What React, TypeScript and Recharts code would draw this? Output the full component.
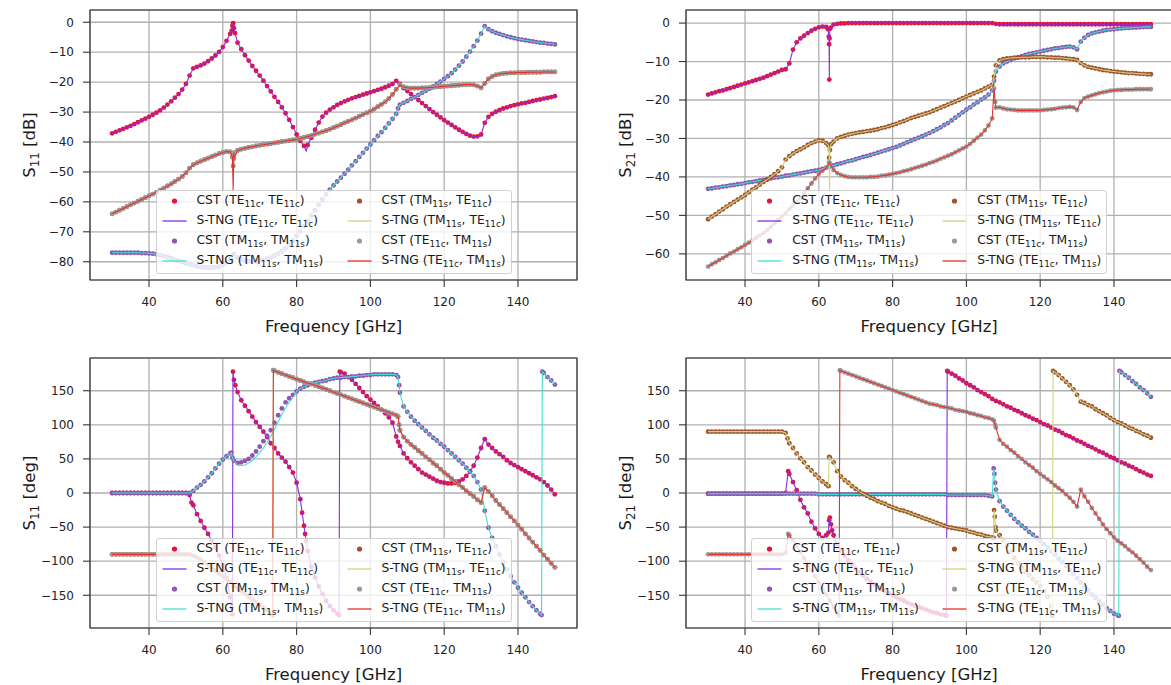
import React from 'react';
import { ComposedChart, Scatter, Line, XAxis, YAxis, CartesianGrid, ReferenceArea } from 'recharts';

// frequency grid shared by all traces [GHz]
const FREQ = [
  30, 31, 32, 33, 34, 35, 36, 37, 38, 39,
  40, 41, 42, 43, 44, 45, 46, 47, 48, 49,
  50, 51, 52, 53, 54, 55, 56, 57, 58, 59,
  60, 61, 62, 63, 64, 65, 66, 67, 68, 69,
  70, 71, 72, 73, 74, 75, 76, 77, 78, 79,
  80, 81, 82, 83, 84, 85, 86, 87, 88, 89,
  90, 91, 92, 93, 94, 95, 96, 97, 98, 99,
  100, 101, 102, 103, 104, 105, 106, 107, 108, 109,
  110, 111, 112, 113, 114, 115, 116, 117, 118, 119,
  120, 121, 122, 123, 124, 125, 126, 127, 128, 129,
  130, 131, 132, 133, 134, 135, 136, 137, 138, 139,
  140, 141, 142, 143, 144, 145, 146, 147, 148, 149,
  150,
];

// ---- S11 magnitude [dB] ----
const s11DbTeTe = [
  -37.1, -36.6, -36.1, -35.6, -35.1, -34.6, -34.0, -33.4, -32.8, -32.2,
  -31.6, -30.9, -30.2, -29.4, -28.5, -27.5, -26.4, -25.2, -24.0, -22.5,
  -20.6, -17.8, -15.4, -14.9, -14.4, -13.8, -13.0, -12.1, -11.1, -9.9,
  -8.3, -6.2, -3.9, -2.0, -6.8, -9.0, -11.0, -12.8, -14.6, -16.2,
  -17.8, -19.5, -21.3, -23.1, -24.9, -26.6, -28.4, -30.4, -32.6, -35.0,
  -37.5, -39.6, -41.3, -41.0, -38.6, -35.9, -33.5, -31.5, -30.2, -29.2,
  -28.4, -27.6, -27.0, -26.4, -25.9, -25.4, -25.0, -24.6, -24.2, -23.8,
  -23.4, -23.0, -22.6, -22.2, -21.7, -21.2, -20.6, -19.6, -20.6, -22.0,
  -23.0, -24.0, -25.0, -26.0, -27.0, -28.0, -29.0, -30.0, -30.9, -31.8,
  -32.7, -33.5, -34.3, -35.1, -35.9, -36.6, -37.3, -37.9, -38.2, -38.1,
  -37.5, -33.6, -31.6, -30.6, -29.9, -29.3, -28.8, -28.4, -28.0, -27.7,
  -27.4, -27.1, -26.9, -26.6, -26.3, -26.0, -25.8, -25.5, -25.3, -25.0,
  -24.7,
];
const s11DbTeTeExtra = [[62.4, -2.8], [62.6, -1.2], [62.8, -0.3], [63.3, -3.6]];
const s11DbTeTeLine = [[82.6, -43.0]];

const s11DbTmTm = [
  -77.0, -77.0, -77.0, -77.0, -77.0, -77.0, -77.0, -77.0, -77.1, -77.1,
  -77.2, -77.3, -77.5, -77.8, -78.1, -78.5, -78.9, -79.3, -79.7, -80.1,
  -80.5, -80.9, -81.2, -81.5, -81.7, -81.9, -82.0, -82.0, -81.9, -81.6,
  -81.0, -80.2, -79.0, -77.5, -78.6, -79.2, -79.6, -79.8, -79.9, -79.9,
  -79.7, -79.4, -79.0, -78.6, -78.0, -77.3, -76.5, -75.5, -74.3, -72.9,
  -71.4, -69.8, -68.1, -66.4, -64.6, -62.8, -61.0, -59.2, -57.5, -55.9,
  -54.5, -53.2, -51.9, -50.6, -49.2, -47.8, -46.4, -45.0, -43.6, -42.2,
  -40.8, -39.4, -38.0, -36.7, -35.3, -33.8, -32.3, -30.6, -27.5, -26.9,
  -26.3, -25.6, -25.0, -24.3, -23.6, -22.9, -22.2, -21.4, -20.6, -19.8,
  -18.9, -18.0, -17.0, -15.8, -14.5, -13.1, -11.5, -9.8, -8.0, -6.1,
  -3.8, -1.3, -2.3, -3.0, -3.5, -3.9, -4.3, -4.7, -5.0, -5.3,
  -5.6, -5.8, -6.0, -6.2, -6.4, -6.6, -6.8, -6.9, -7.1, -7.2,
  -7.4,
];
const s11DbTmTmExtra = [[107.5, -28.8]];

// (TM11s, TE11c) and (TE11c, TM11s) coincide for reflection
const s11DbCross = [
  -64.0, -63.4, -62.8, -62.2, -61.6, -61.0, -60.4, -59.8, -59.2, -58.6,
  -58.0, -57.4, -56.8, -56.1, -55.4, -54.7, -54.0, -53.2, -52.4, -51.5,
  -50.3, -48.7, -47.6, -47.0, -46.4, -45.9, -45.4, -44.9, -44.4, -43.9,
  -43.5, -43.2, -43.3, -43.6, -42.8, -42.4, -42.1, -41.8, -41.6, -41.3,
  -41.1, -40.9, -40.7, -40.5, -40.3, -40.1, -39.9, -39.7, -39.5, -39.3,
  -39.1, -38.8, -38.5, -38.2, -37.8, -37.4, -37.0, -36.6, -36.2, -35.7,
  -35.2, -34.7, -34.2, -33.6, -33.1, -32.6, -32.0, -31.4, -30.8, -30.3,
  -29.7, -29.0, -28.2, -27.4, -26.6, -25.5, -24.1, -22.4, -20.9, -21.6,
  -21.9, -22.0, -22.0, -22.0, -21.9, -21.9, -21.8, -21.7, -21.6, -21.5,
  -21.4, -21.3, -21.2, -21.1, -21.0, -20.9, -20.8, -20.8, -20.9, -21.3,
  -21.9, -20.4, -18.9, -18.1, -17.6, -17.3, -17.1, -17.0, -16.9, -16.9,
  -16.8, -16.8, -16.8, -16.7, -16.7, -16.7, -16.7, -16.6, -16.6, -16.6,
  -16.6,
];
const s11DbCrossExtra = [[62.6, -45.0], [62.8, -48.0], [63.0, -45.5]];
const s11DbCrossLine = [[62.8, -56.0]];

// ---- S21 magnitude [dB] ----
const s21DbTeTe = [
  -18.6, -18.3, -18.0, -17.7, -17.5, -17.2, -16.9, -16.6, -16.3, -16.0,
  -15.7, -15.4, -15.1, -14.8, -14.5, -14.2, -13.8, -13.4, -13.0, -12.6,
  -12.2, -12.0, -10.5, -6.9, -5.0, -4.0, -3.3, -2.6, -2.0, -1.5,
  -1.1, -0.9, -1.0, -1.5, -0.4, -0.2, -0.1, -0.1, 0, 0,
  0, 0, 0, 0, 0, 0, 0, 0, 0, 0,
  0, 0, 0, 0, 0, 0, 0, 0, 0, 0,
  0, 0, 0, 0, 0, 0, 0, 0, 0, 0,
  0, 0, 0, 0, 0, 0, 0, 0, -0.2, -0.3,
  -0.3, -0.3, -0.3, -0.3, -0.3, -0.3, -0.3, -0.3, -0.3, -0.3,
  -0.3, -0.3, -0.3, -0.3, -0.3, -0.3, -0.3, -0.3, -0.3, -0.3,
  -0.3, -0.3, -0.3, -0.3, -0.3, -0.3, -0.3, -0.3, -0.3, -0.3,
  -0.3, -0.3, -0.3, -0.3, -0.3, -0.3, -0.3, -0.3, -0.3, -0.3,
  -0.3,
];
const s21DbTeTeExtra = [[62.5, -1.6], [62.7, -3.5], [62.8, -5.5], [62.85, -14.7], [62.9, -4.0], [63.2, -1.2]];

const s21DbTmTm = [
  -43.1, -43.0, -42.8, -42.7, -42.5, -42.4, -42.2, -42.1, -41.9, -41.8,
  -41.6, -41.4, -41.3, -41.1, -40.9, -40.8, -40.6, -40.4, -40.2, -40.1,
  -39.9, -39.7, -39.6, -39.4, -39.2, -39.1, -38.9, -38.7, -38.5, -38.4,
  -38.2, -37.9, -37.6, -37.3, -37.0, -36.7, -36.5, -36.2, -35.9, -35.7,
  -35.4, -35.1, -34.8, -34.6, -34.3, -34.0, -33.7, -33.4, -33.1, -32.8,
  -32.5, -32.2, -31.8, -31.4, -31.0, -30.6, -30.2, -29.8, -29.4, -29.0,
  -28.6, -28.1, -27.6, -27.1, -26.5, -26.0, -25.3, -24.6, -23.9, -23.2,
  -22.5, -21.9, -21.2, -20.6, -19.9, -19.3, -18.6, -17.5, -12.6, -11.3,
  -10.5, -10.0, -9.6, -9.2, -8.9, -8.6, -8.3, -8.0, -7.8, -7.6,
  -7.4, -7.2, -7.0, -6.8, -6.6, -6.5, -6.3, -6.2, -6.1, -6.3,
  -6.8, -4.8, -3.8, -3.1, -2.7, -2.4, -2.2, -2.0, -1.8, -1.7,
  -1.6, -1.5, -1.4, -1.3, -1.25, -1.2, -1.15, -1.1, -1.05, -1.0,
  -1.0,
];
const s21DbTmTmExtra = [[107.5, -15.0]];

const s21DbTmTe = [
  -51.0, -50.3, -49.7, -49.0, -48.4, -47.7, -47.1, -46.5, -45.9, -45.3,
  -44.7, -44.0, -43.3, -42.7, -42.0, -41.3, -40.7, -40.0, -39.3, -38.5,
  -37.5, -35.5, -34.6, -33.9, -33.3, -32.8, -32.3, -31.7, -31.2, -30.8,
  -30.5, -30.6, -31.2, -33.0, -30.8, -30.0, -29.6, -29.3, -29.0, -28.8,
  -28.6, -28.4, -28.3, -28.1, -28.0, -27.8, -27.6, -27.3, -27.1, -26.8,
  -26.5, -26.2, -25.8, -25.5, -25.1, -24.7, -24.4, -24.1, -23.8, -23.5,
  -23.2, -22.8, -22.4, -22.0, -21.6, -21.2, -20.8, -20.4, -20.0, -19.5,
  -19.1, -18.7, -18.3, -17.9, -17.5, -17.0, -16.5, -16.0, -11.0, -9.7,
  -9.4, -9.2, -9.1, -9.0, -9.0, -8.9, -8.9, -8.9, -8.8, -8.8,
  -8.8, -8.8, -8.9, -8.9, -9.0, -9.0, -9.1, -9.2, -9.3, -9.4,
  -9.6, -10.4, -11.0, -11.4, -11.6, -11.8, -12.0, -12.2, -12.3, -12.5,
  -12.6, -12.7, -12.8, -12.9, -13.0, -13.0, -13.1, -13.2, -13.2, -13.3,
  -13.3,
];
const s21DbTmTeExtra = [[62.6, -31.8], [62.8, -35.0], [63.3, -31.5], [107.5, -13.9]];
const s21DbTmTeLine = [[62.9, -45.0]];

const s21DbTeTm = [
  -63.3, -62.7, -62.2, -61.6, -61.1, -60.5, -59.9, -59.4, -58.8, -58.3,
  -57.7, -57.1, -56.5, -55.8, -55.2, -54.6, -53.8, -53.0, -52.1, -51.2,
  -50.3, -49.4, -48.4, -47.5, -46.5, -45.5, -44.3, -43.0, -41.7, -40.4,
  -39.2, -38.4, -37.7, -36.5, -38.2, -39.0, -39.5, -39.8, -40.0, -40.1,
  -40.1, -40.1, -40.1, -40.1, -40.0, -40.0, -39.9, -39.7, -39.6, -39.4,
  -39.2, -39.0, -38.8, -38.5, -38.3, -38.0, -37.7, -37.4, -37.1, -36.8,
  -36.4, -36.1, -35.7, -35.3, -34.9, -34.5, -34.1, -33.6, -33.1, -32.6,
  -32.1, -31.4, -30.6, -29.8, -29.0, -27.9, -26.6, -24.8, -22.0, -21.9,
  -22.2, -22.4, -22.5, -22.6, -22.7, -22.7, -22.7, -22.7, -22.7, -22.7,
  -22.7, -22.6, -22.5, -22.4, -22.3, -22.1, -22.0, -21.9, -21.8, -21.9,
  -22.6, -20.5, -19.5, -19.1, -18.8, -18.5, -18.2, -18.0, -17.8, -17.6,
  -17.5, -17.4, -17.4, -17.3, -17.3, -17.3, -17.2, -17.2, -17.2, -17.2,
  -17.2,
];
const s21DbTeTmExtra = [[62.8, -36.2], [107.5, -17.0], [107.8, -20.5]];

// ---- S11 phase [deg] ----
const s11DegTeTe = [
  0, 0, 0, 0, 0, 0, 0, 0, 0, 0,
  0, 0, 0, 0, 0, 0, 0, 0, 0, 0,
  0, -3, -18, -31, -41, -51, -60, -70, -80, -92,
  -106, -125, -152, 166, 148, 136, 128, 120, 112, 104,
  97, 90, 82, 73, 66, 58, 52, 46, 38, 30,
  15, -9, -48, -85, -108, -124, -137, -148, -158, -166,
  -172, -177, 177, 175, 170, 166, 160, 154, 148, 142,
  137, 132, 127, 122, 117, 111, 103, 83, 69, 58,
  51, 45, 40, 35, 30, 27, 24, 21, 18, 16,
  15, 14, 14, 15, 17, 20, 25, 32, 40, 52,
  66, 79, 71, 66, 61, 57, 53, 48, 44, 41,
  38, 35, 32, 29, 26, 23, 20, 16, 11, 5,
  -2,
];
const s11DegTeTeExtra = [
  [51.5, -14], [62.4, -168], [62.6, -178], [62.75, 178], [63.4, 158],
  [81.5, -29], [82.3, -60], [82.6, -70], [91.5, -179], [91.7, 178], [107.5, 75],
];

const s11DegTmTm = [
  0, 0, 0, 0, 0, 0, 0, 0, 0, 0,
  0, 0, 0, 0, 0, 0, 0, 0, 0, 0,
  0, 0, 3, 8, 12, 17, 23, 29, 36, 43,
  49, 54, 58, 47, 44, 45, 47, 50, 55, 61,
  68, 76, 84, 92, 103, 114, 124, 133, 139, 144,
  149, 153, 156, 158, 160, 162, 163, 164, 165, 167,
  168, 169, 169, 170, 170, 171, 171, 172, 172, 173,
  173, 174, 174, 174, 174, 174, 174, 173, 147, 127,
  119, 112, 106, 101, 96, 91, 86, 81, 77, 72,
  68, 63, 58, 53, 48, 43, 37, 31, 25, 16,
  5, -26, -51, -66, -78, -90, -102, -112, -122, -131,
  -139, -146, -153, -160, -166, -172, -177, 176, 170, 165,
  159,
];
const s11DegTmTmExtra = [[62.3, 59], [62.6, 52], [107.5, 170], [107.8, 158], [146.4, -179], [146.6, 178]];
// S-TNG sits a little below CST between the two resonances
const s11DegTmTmLine = [
  [64, 41], [65, 40], [66, 41], [67, 44], [68, 48], [69, 53], [70, 59], [71, 66],
  [72, 74], [73, 83], [74, 93], [75, 104], [76, 115], [77, 125], [78, 133], [79, 140],
];

const s11DegCross = [
  -90, -90, -90, -90, -90, -90, -90, -90, -90, -90,
  -90, -90, -90, -90, -90, -90, -90, -90, -90, -90,
  -90, -90, -92, -95, -98, -102, -106, -110, -114, -118,
  -122, -126, -130, -136, -140, -144, -148, -152, -156, -160,
  -164, -168, -172, -177, 179, 177, 175, 173, 171, 169,
  167, 165, 163, 161, 160, 158, 156, 154, 152, 150,
  148, 146, 144, 142, 140, 138, 136, 134, 132, 130,
  128, 126, 124, 122, 120, 118, 116, 114, 92, 82,
  76, 71, 67, 62, 58, 53, 49, 44, 40, 35,
  30, 26, 21, 17, 12, 8, 3, -1, -5, -10,
  -14, 8, 2, -4, -11, -17, -23, -29, -35, -41,
  -47, -53, -60, -66, -72, -78, -84, -91, -97, -103,
  -109,
];
const s11DegCrossExtra = [[73.5, -180], [73.7, 180], [107.5, 112], [107.8, 100]];

// ---- S21 phase [deg] ----
const s21DegTeTe = [
  -1, -1, -1, -1, -1, -1, -1, -1, -1, -1,
  -1, -1, -1, -1, -1, -1, -1, -1, -1, -1,
  -1, 0, 28, 16, 4, -10, -21, -30, -42, -52,
  -60, -66, -62, -36, -62, -75, -84, -92, -99, -105,
  -111, -116, -121, -126, -130, -134, -138, -141, -144, -147,
  -150, -153, -156, -158, -161, -163, -165, -167, -169, -171,
  -173, -175, -176, -178, -179, 178, 175, 172, 168, 165,
  161, 158, 155, 151, 148, 145, 142, 138, 135, 133,
  130, 127, 125, 122, 120, 117, 114, 112, 109, 107,
  104, 101, 99, 96, 93, 91, 88, 85, 83, 80,
  77, 75, 72, 69, 67, 64, 61, 59, 56, 53,
  51, 48, 45, 43, 40, 38, 35, 32, 30, 27,
  25,
];
const s21DegTeTeExtra = [[51.7, 32], [62.6, -58], [62.8, -40], [63.3, -46], [63.6, -55], [94.6, -180], [94.8, 179]];

const s21DegTmTm = [
  -1, -1, -1, -1, -1, -1, -1, -1, -1, -1,
  -1, -1, -1, -1, -1, -1, -1, -1, -1, -1,
  -1, -1, -1, -1, -1, -1, -1, -1, -1, -1,
  -2, -2, -2, -2, -2, -2, -2, -2, -2, -2,
  -2, -2, -2, -2, -2, -2, -2, -2, -2, -2,
  -2, -2, -2, -2, -2, -2, -2, -2, -2, -2,
  -2, -2, -2, -2, -2, -3, -3, -3, -3, -3,
  -3, -3, -3, -3, -3, -3, -4, -5, 5, -12,
  -20, -26, -32, -38, -43, -48, -52, -57, -61, -66,
  -70, -75, -80, -85, -90, -96, -101, -107, -113, -119,
  -125, -131, -137, -143, -149, -154, -159, -164, -169, -173,
  -177, -179, 177, 173, 169, 164, 160, 155, 151, 146,
  141,
];
const s21DegTmTmExtra = [[107.4, 36], [107.6, 28], [107.8, 15], [141.3, -180], [141.5, 179]];

const s21DegTmTe = [
  90, 90, 90, 90, 90, 90, 90, 90, 90, 90,
  90, 90, 90, 90, 90, 90, 90, 90, 90, 90,
  90, 88, 73, 66, 58, 51, 45, 38, 33, 27,
  22, 17, 13, 52, 45, 32, 24, 19, 15, 10,
  6, 2, -1, -4, -7, -9, -12, -14, -16, -19,
  -21, -23, -25, -26, -28, -30, -32, -34, -36, -38,
  -40, -42, -44, -46, -48, -50, -51, -52, -53, -54,
  -55, -57, -58, -60, -61, -63, -64, -65, -55, -62,
  -69, -78, -86, -95, -103, -110, -116, -121, -126, -131,
  -137, -144, -152, -166, 177, 173, 168, 163, 158, 152,
  144, 134, 132, 129, 127, 123, 120, 117, 114, 110,
  107, 104, 102, 99, 96, 94, 91, 89, 86, 84,
  81,
];
const s21DegTmTeExtra = [
  [51.5, 80], [62.6, 10], [62.8, 53], [107.4, -66], [107.5, -25], [107.7, -35],
  [107.9, -50], [123.3, -180], [123.5, 179],
];

const s21DegTeTm = [
  -90, -90, -90, -90, -90, -90, -90, -90, -90, -90,
  -90, -90, -90, -90, -90, -90, -90, -90, -90, -90,
  -90, -88, -62, -69, -78, -87, -96, -105, -114, -122,
  -131, -140, -149, -158, -167, -175, 179, 177, 175, 173,
  171, 169, 167, 165, 163, 161, 159, 157, 155, 153,
  151, 149, 147, 145, 143, 141, 139, 137, 135, 133,
  131, 130, 129, 127, 126, 125, 124, 122, 121, 120,
  119, 117, 116, 114, 113, 111, 110, 108, 96, 78,
  72, 68, 63, 59, 54, 50, 45, 41, 37, 32,
  28, 24, 20, 16, 11, 7, 3, -2, -7, -13,
  -20, 5, -5, -13, -22, -30, -38, -46, -53, -59,
  -65, -70, -74, -78, -83, -87, -92, -97, -102, -108,
  -113,
];
const s21DegTeTmExtra = [[51.7, -60], [65.5, -180], [65.7, 180], [107.5, 106], [107.8, 100]];

const X_TICKS = [40, 60, 80, 100, 120, 140];
const DB11_TICKS = [0, -10, -20, -30, -40, -50, -60, -70, -80];
const DB21_TICKS = [0, -10, -20, -30, -40, -50, -60];
const DEG_TICKS = [150, 100, 50, 0, -50, -100, -150];

const FONT = '"DejaVu Sans", Verdana, sans-serif';

type Pt = { f: number; v: number };
type Curve = { vals: number[]; extra?: number[][]; lineExtra?: number[][] };

const toPoints = (c: Curve): Pt[] =>
  [...FREQ.map((f, i) => ({ f, v: c.vals[i] })), ...(c.extra || []).map(([f, v]) => ({ f, v }))].sort(
    (a, b) => a.f - b.f,
  );

// the S-TNG line follows the CST samples except where its own values are given
const linePoints = (c: Curve): Pt[] => {
  const pts = toPoints(c);
  if (!c.lineExtra) return pts;
  const fs = new Set(c.lineExtra.map((p) => p[0]));
  return [...pts.filter((p) => !fs.has(p.f)), ...c.lineExtra.map(([f, v]) => ({ f, v }))].sort(
    (a, b) => a.f - b.f,
  );
};

// CST markers and S-TNG lines, in drawing order
const SERIES = [
  { key: 'teTe', dot: '#e5133a', line: '#8a2be2' },
  { key: 'tmTm', dot: '#8f55b0', line: '#40e0d0' },
  { key: 'tmTe', dot: '#a0522d', line: '#cfd67c' },
  { key: 'teTm', dot: '#9a9a9a', line: '#e8302a' },
];

const TE = ['TE', '11c'];
const TM = ['TM', '11s'];

const LEGEND = [
  { col: 0, row: 0, kind: 'dot', color: SERIES[0].dot, src: 'CST', a: TE, b: TE },
  { col: 0, row: 1, kind: 'line', color: SERIES[0].line, src: 'S-TNG', a: TE, b: TE },
  { col: 0, row: 2, kind: 'dot', color: SERIES[1].dot, src: 'CST', a: TM, b: TM },
  { col: 0, row: 3, kind: 'line', color: SERIES[1].line, src: 'S-TNG', a: TM, b: TM },
  { col: 1, row: 0, kind: 'dot', color: SERIES[2].dot, src: 'CST', a: TM, b: TE },
  { col: 1, row: 1, kind: 'line', color: SERIES[2].line, src: 'S-TNG', a: TM, b: TE },
  { col: 1, row: 2, kind: 'dot', color: SERIES[3].dot, src: 'CST', a: TE, b: TM },
  { col: 1, row: 3, kind: 'line', color: SERIES[3].line, src: 'S-TNG', a: TE, b: TM },
];

const SUB: React.CSSProperties = { fontSize: '0.72em', position: 'relative', top: '0.3em' };

const Mode = ({ m }: { m: string[] }) => (
  <>
    {m[0]}
    <span style={SUB}>{m[1]}</span>
  </>
);

const fmtTick = (v: number) => String(v).replace('-', '\u2212');

const TICK = { fontSize: 12, fill: '#222', fontFamily: FONT };

// plot area inside each 590x340 panel
const PLOT = { left: 90, right: 577, top: 10, bottom: 280 };

function Legend() {
  const w = 356;
  const h = 84;
  const cx = (PLOT.left + PLOT.right) / 2;
  return (
    <div
      style={{
        position: 'absolute',
        left: cx - w / 2,
        top: PLOT.bottom - 6 - h,
        width: w,
        height: h,
        background: 'rgba(255,255,255,0.8)',
        border: '1px solid #d0d0d0',
        borderRadius: 3,
        boxSizing: 'border-box',
        fontFamily: FONT,
        fontSize: 12.3,
        color: '#1a1a1a',
      }}
    >
      {LEGEND.map((it, i) => {
        const x0 = it.col === 0 ? 5 : 190;
        const y = 10 + it.row * 20;
        return (
          <div key={i} style={{ position: 'absolute', left: x0, top: y - 10, height: 20, width: 170 }}>
            <svg width={26} height={20} style={{ position: 'absolute', left: 0, top: 0 }}>
              {it.kind === 'dot' ? (
                <circle cx={12.5} cy={10} r={2.6} fill={it.color} />
              ) : (
                <line x1={0.5} y1={10} x2={24.5} y2={10} stroke={it.color} strokeWidth={1.3} />
              )}
            </svg>
            <div style={{ position: 'absolute', left: 35, top: 2, whiteSpace: 'nowrap', lineHeight: '14px' }}>
              {it.src} (<Mode m={it.a} />, <Mode m={it.b} />)
            </div>
          </div>
        );
      })}
    </div>
  );
}

type PanelProps = {
  left: number;
  top: number;
  curves: Record<string, Curve>;
  yDomain: [number, number];
  yTicks: number[];
  param: string;
  unit: string;
};

function Panel({ left, top, curves, yDomain, yTicks, param, unit }: PanelProps) {
  const W = 590;
  const H = 340;
  return (
    <div style={{ position: 'absolute', left, top, width: W, height: H }}>
      <ComposedChart width={W} height={H} margin={{ top: PLOT.top, right: W - PLOT.right, bottom: 30, left: 30 }}>
        <CartesianGrid stroke="#b0b0b0" strokeWidth={1.3} />
        <XAxis
          type="number"
          dataKey="f"
          domain={[24, 156]}
          ticks={X_TICKS}
          allowDataOverflow
          height={30}
          axisLine={false}
          tickSize={7}
          tickMargin={10}
          tickLine={{ stroke: '#333', strokeWidth: 1.1 }}
          tick={TICK}
        />
        <YAxis
          type="number"
          dataKey="v"
          domain={yDomain}
          ticks={yTicks}
          allowDataOverflow
          width={60}
          axisLine={false}
          tickSize={7}
          tickMargin={9}
          tickLine={{ stroke: '#333', strokeWidth: 1.1 }}
          tick={TICK}
          tickFormatter={fmtTick}
        />
        {SERIES.flatMap((s, i) => {
          const c = curves[s.key];
          return [
            <Scatter
              key={s.key + '-cst'}
              data={toPoints(c)}
              isAnimationActive={false}
              zIndex={100 + i * 2}
              shape={(p: any) => <circle cx={p.cx} cy={p.cy} r={2.4} fill={s.dot} />}
            />,
            <Line
              key={s.key + '-stng'}
              data={linePoints(c)}
              dataKey="v"
              type="linear"
              stroke={s.line}
              strokeWidth={1.1}
              dot={false}
              activeDot={false}
              isAnimationActive={false}
              zIndex={101 + i * 2}
            />,
          ];
        })}
        <ReferenceArea
          x1={24}
          x2={156}
          y1={yDomain[0]}
          y2={yDomain[1]}
          fill="none"
          stroke="#333"
          strokeWidth={1.2}
          ifOverflow="visible"
          zIndex={1000}
        />
      </ComposedChart>
      <div
        style={{
          position: 'absolute',
          left: 29,
          top: (PLOT.top + PLOT.bottom) / 2,
          transform: 'translate(-50%, -50%) rotate(-90deg)',
          fontFamily: FONT,
          fontSize: 16.5,
          whiteSpace: 'nowrap',
          color: '#1a1a1a',
        }}
      >
        S<span style={SUB}>{param}</span> {unit}
      </div>
      <div
        style={{
          position: 'absolute',
          left: (PLOT.left + PLOT.right) / 2,
          top: 326,
          transform: 'translate(-50%, -50%)',
          fontFamily: FONT,
          fontSize: 16.5,
          whiteSpace: 'nowrap',
          color: '#1a1a1a',
        }}
      >
        Frequency [GHz]
      </div>
      <Legend />
    </div>
  );
}

export default function App() {
  const s11Db = {
    teTe: { vals: s11DbTeTe, extra: s11DbTeTeExtra, lineExtra: s11DbTeTeLine },
    tmTm: { vals: s11DbTmTm, extra: s11DbTmTmExtra },
    tmTe: { vals: s11DbCross, extra: s11DbCrossExtra },
    teTm: { vals: s11DbCross, extra: s11DbCrossExtra, lineExtra: s11DbCrossLine },
  };
  const s21Db = {
    teTe: { vals: s21DbTeTe, extra: s21DbTeTeExtra },
    tmTm: { vals: s21DbTmTm, extra: s21DbTmTmExtra },
    tmTe: { vals: s21DbTmTe, extra: s21DbTmTeExtra, lineExtra: s21DbTmTeLine },
    teTm: { vals: s21DbTeTm, extra: s21DbTeTmExtra },
  };
  const s11Deg = {
    teTe: { vals: s11DegTeTe, extra: s11DegTeTeExtra },
    tmTm: { vals: s11DegTmTm, extra: s11DegTmTmExtra, lineExtra: s11DegTmTmLine },
    tmTe: { vals: s11DegCross, extra: s11DegCrossExtra },
    teTm: { vals: s11DegCross, extra: s11DegCrossExtra },
  };
  const s21Deg = {
    teTe: { vals: s21DegTeTe, extra: s21DegTeTeExtra },
    tmTm: { vals: s21DegTmTm, extra: s21DegTmTmExtra },
    tmTe: { vals: s21DegTmTe, extra: s21DegTmTeExtra },
    teTm: { vals: s21DegTeTm, extra: s21DegTeTmExtra },
  };

  return (
    <div
      style={{
        position: 'absolute',
        left: 0,
        top: 0,
        width: 1171,
        height: 685,
        overflow: 'hidden',
        background: '#fff',
        fontFamily: FONT,
      }}
    >
      <Panel left={0} top={0} curves={s11Db} yDomain={[-86.1, 4.1]} yTicks={DB11_TICKS} param="11" unit="[dB]" />
      <Panel left={595.7} top={0} curves={s21Db} yDomain={[-66.8, 3.4]} yTicks={DB21_TICKS} param="21" unit="[dB]" />
      <Panel left={0} top={348} curves={s11Deg} yDomain={[-198, 198]} yTicks={DEG_TICKS} param="11" unit="[deg]" />
      <Panel left={595.7} top={348} curves={s21Deg} yDomain={[-198, 198]} yTicks={DEG_TICKS} param="21" unit="[deg]" />
    </div>
  );
}
